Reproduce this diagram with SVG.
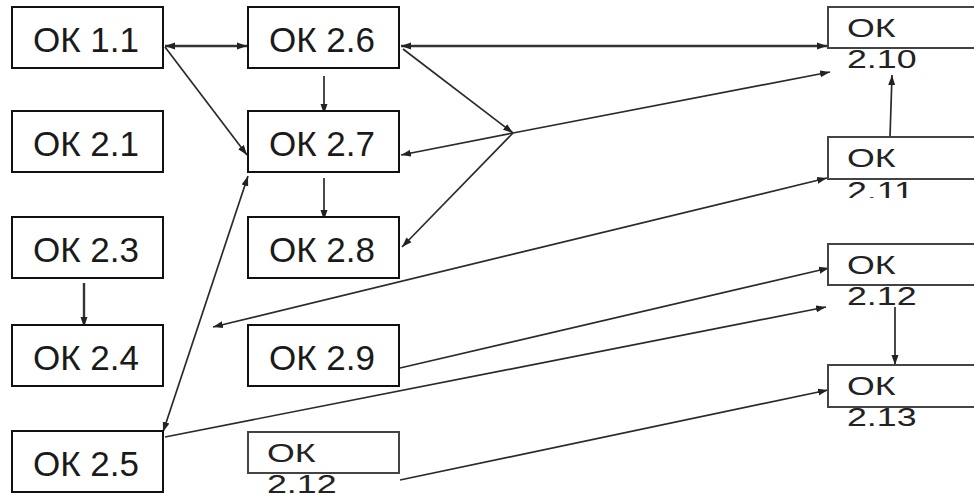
<svg xmlns="http://www.w3.org/2000/svg" width="974" height="497" viewBox="0 0 974 497">
<style>
.box{fill:#fff;stroke:#111;stroke-width:2}
.rbox{fill:#fff;stroke:#444;stroke-width:2}
.t{font-family:"Liberation Sans",Arial,sans-serif;font-size:35px;fill:#1a1a1a;text-anchor:middle}
.s{font-family:"Liberation Sans",Arial,sans-serif;font-size:25px;fill:#222}
.c{fill:none;stroke:#2a2a2a;stroke-width:1.7}
.h{fill:none;stroke:#333;stroke-width:2.4}
</style>
<defs>
<marker id="ah" markerWidth="11" markerHeight="8" refX="10" refY="4" orient="auto-start-reverse" markerUnits="userSpaceOnUse"><path d="M0,0.5 L10,4 L0,7.5 z" fill="#222"/></marker>
<clipPath id="clip211"><rect x="820" y="130" width="160" height="68"/></clipPath>
</defs>
<rect width="974" height="497" fill="#fff"/>
<g id="connectors">
<line class="h" x1="165" y1="46" x2="247" y2="46" marker-start="url(#ah)" marker-end="url(#ah)"/>
<line class="h" x1="401" y1="46" x2="827" y2="46" marker-start="url(#ah)" marker-end="url(#ah)"/>
<line class="c" x1="165" y1="47" x2="247" y2="155" marker-end="url(#ah)"/>
<line class="c" x1="324" y1="76" x2="324" y2="114" marker-end="url(#ah)"/>
<line class="c" x1="324" y1="178" x2="324" y2="220" marker-end="url(#ah)"/>
<line class="c" x1="403" y1="49" x2="513" y2="133" marker-end="url(#ah)"/>
<line class="c" x1="513" y1="133" x2="401" y2="155" marker-end="url(#ah)"/>
<line class="c" x1="513" y1="133" x2="402" y2="247" marker-end="url(#ah)"/>
<line class="c" x1="513" y1="133" x2="830" y2="72" marker-end="url(#ah)"/>
<line class="c" x1="213" y1="327" x2="827" y2="178" marker-start="url(#ah)" marker-end="url(#ah)"/>
<line class="c" x1="890" y1="137" x2="892" y2="75" marker-end="url(#ah)"/>
<line class="c" x1="163" y1="432" x2="248" y2="176" marker-start="url(#ah)" marker-end="url(#ah)"/>
<line class="c" x1="400" y1="368" x2="829" y2="268" marker-end="url(#ah)"/>
<line class="c" x1="165" y1="437" x2="826" y2="307" marker-end="url(#ah)"/>
<line class="c" x1="400" y1="480" x2="828" y2="390" marker-end="url(#ah)"/>
<line class="c" x1="895" y1="307" x2="895" y2="365" marker-end="url(#ah)"/>
<line class="h" x1="84" y1="283" x2="84" y2="327" marker-end="url(#ah)"/>
</g>
<g id="ok11"><rect class="box" x="12" y="7" width="151" height="61"/><text class="t" x="86" y="51.5">ОК 1.1</text></g>
<g id="ok21"><rect class="box" x="12" y="111" width="151" height="61"/><text class="t" x="86" y="155.5">ОК 2.1</text></g>
<g id="ok23"><rect class="box" x="12" y="217" width="151" height="61"/><text class="t" x="86" y="261.5">ОК 2.3</text></g>
<g id="ok24"><rect class="box" x="12" y="325" width="151" height="61"/><text class="t" x="86" y="369.5">ОК 2.4</text></g>
<g id="ok25"><rect class="box" x="12" y="431" width="151" height="61"/><text class="t" x="86" y="475.5">ОК 2.5</text></g>
<g id="ok26"><rect class="box" x="248" y="7" width="151" height="61"/><text class="t" x="322" y="51.5">ОК 2.6</text></g>
<g id="ok27"><rect class="box" x="248" y="111" width="151" height="61"/><text class="t" x="322" y="155.5">ОК 2.7</text></g>
<g id="ok28"><rect class="box" x="248" y="217" width="151" height="61"/><text class="t" x="322" y="261.5">ОК 2.8</text></g>
<g id="ok29"><rect class="box" x="248" y="325" width="151" height="61"/><text class="t" x="322" y="369.5">ОК 2.9</text></g>
<g id="ok212b"><rect class="rbox" x="248" y="432" width="151" height="41"/><text class="s" transform="translate(267,462) scale(1.43,1)">ОК</text><text class="s" transform="translate(267,493) scale(1.43,1)">2.12</text></g>
<g id="ok210"><rect class="rbox" x="828" y="7" width="160" height="41"/><text class="s" transform="translate(847,37) scale(1.43,1)">ОК</text><text class="s" transform="translate(847,68) scale(1.43,1)">2.10</text></g>
<g id="ok211"><rect class="rbox" x="828" y="137" width="160" height="42"/><text class="s" transform="translate(847,167) scale(1.43,1)">ОК</text><g clip-path="url(#clip211)"><text class="s" transform="translate(847,200) scale(1.43,1)">2.11</text></g></g>
<g id="ok212"><rect class="rbox" x="828" y="244" width="160" height="41"/><text class="s" transform="translate(847,274) scale(1.43,1)">ОК</text><text class="s" transform="translate(847,305) scale(1.43,1)">2.12</text></g>
<g id="ok213"><rect class="rbox" x="828" y="365" width="160" height="42"/><text class="s" transform="translate(847,395) scale(1.43,1)">ОК</text><text class="s" transform="translate(847,426) scale(1.43,1)">2.13</text></g>
</svg>
